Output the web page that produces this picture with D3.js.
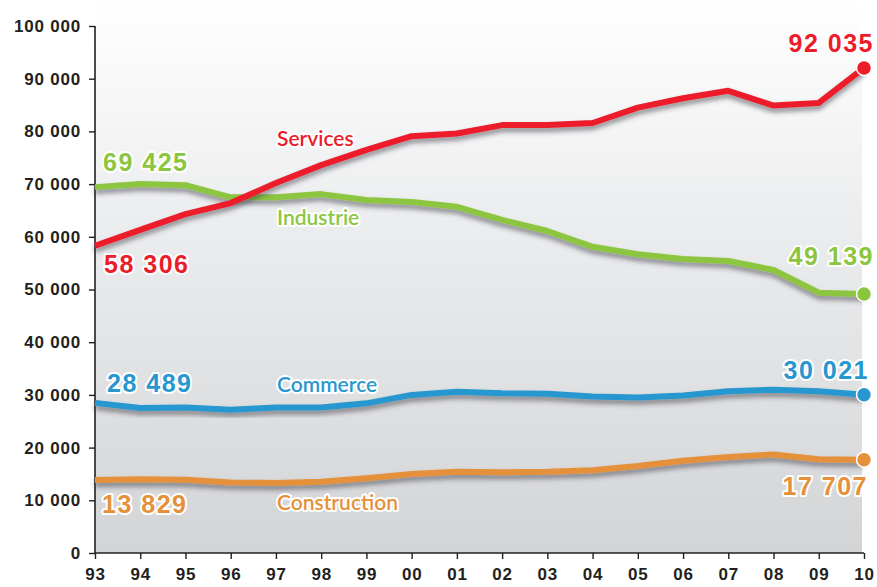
<!DOCTYPE html>
<html>
<head>
<meta charset="utf-8">
<script src="https://cdn.jsdelivr.net/npm/d3@7"></script>
<style>
  html, body { margin: 0; padding: 0; background: #ffffff; }
  svg { display: block; }
</style>
</head>
<body>
<div id="chart"></div>
<script>
// données (effectifs par secteur, 1993-2010)
const years = ["93","94","95","96","97","98","99","00","01","02","03","04","05","06","07","08","09","10"];
const services = [58306, 61300, 64300, 66400, 70200, 73600, 76500, 79100, 79600, 81200, 81200, 81600, 84500, 86300, 87700, 84900, 85400, 92035];
const industrie = [69425, 70000, 69800, 67500, 67500, 68100, 67000, 66600, 65700, 63200, 61100, 58100, 56700, 55800, 55400, 53700, 49400, 49139];
const commerce = [28489, 27500, 27600, 27200, 27600, 27600, 28400, 30000, 30600, 30300, 30200, 29700, 29500, 29900, 30700, 31000, 30700, 30021];
const construction = [13829, 14000, 13900, 13400, 13300, 13500, 14200, 15000, 15400, 15300, 15400, 15700, 16500, 17500, 18200, 18700, 17800, 17707];
const yTicks = [0, 10000, 20000, 30000, 40000, 50000, 60000, 70000, 80000, 90000, 100000];

const seriesNames = ["Construction", "Commerce", "Industrie", "Services"];
const seriesValues = [construction, commerce, industrie, services];
const seriesColors = ["#e5913b", "#2897cf", "#8cc63f", "#ec1c2a"];

const W = 877, H = 587;
const x0 = 95, x1 = 864, yTop = 26, yBot = 553;

const fr = d3.formatLocale({ decimal: ",", thousands: "\u00a0", grouping: [3], currency: ["", " €"] });
const fmt = fr.format(",");

const svg = d3.select("#chart").append("svg").attr("width", W).attr("height", H);

const defs = svg.append("defs");
const grad = defs.append("linearGradient").attr("id", "bg").attr("x1", 0).attr("y1", 0).attr("x2", 0).attr("y2", 1);
grad.append("stop").attr("offset", "0%").attr("stop-color", "#ffffff");
grad.append("stop").attr("offset", "35%").attr("stop-color", "#eeeff0");
grad.append("stop").attr("offset", "100%").attr("stop-color", "#d3d4d6");

const shadow = defs.append("filter").attr("id", "shadow")
  .attr("x", "-5%").attr("y", "-20%").attr("width", "110%").attr("height", "160%");
shadow.append("feDropShadow").attr("dx", 0).attr("dy", 4).attr("stdDeviation", 2.5)
  .attr("flood-color", "#3a3a44").attr("flood-opacity", 0.55);

const x = d3.scalePoint().domain(years).range([x0, x1]);
const y = d3.scaleLinear().domain([0, 100000]).range([yBot, yTop]);

// fond dégradé de la zone de tracé
svg.append("rect").attr("x", x0).attr("y", 0).attr("width", 862 - x0).attr("height", yBot)
  .attr("fill", "url(#bg)");

// axes
const yAxis = svg.append("g").attr("transform", `translate(${x0},0)`)
  .call(d3.axisLeft(y).tickValues(yTicks).tickSize(6).tickPadding(8).tickFormat(fmt));
const xAxis = svg.append("g").attr("transform", `translate(0,${yBot})`)
  .call(d3.axisBottom(x).tickSize(6).tickPadding(9));

[yAxis, xAxis].forEach(ax => {
  ax.select(".domain").attr("stroke", "#231f20").attr("stroke-width", 1.6);
  ax.selectAll(".tick line").attr("stroke", "#231f20").attr("stroke-width", 1.4);
  ax.selectAll("text").attr("fill", "#231f20")
    .style("font-family", "'Liberation Sans', Arial, sans-serif")
    .style("font-weight", "bold").style("font-size", "17px").style("letter-spacing", "0.8px");
});
yAxis.select(".domain").attr("d", `M0,${yTop}V${yBot}`);
xAxis.select(".domain").attr("d", `M${x0},0H${x1}`);

// courbes
const line = d3.line().x((d, i) => x(years[i])).y(d => y(d));
seriesValues.forEach((vals, k) => {
  svg.append("path").datum(vals)
    .attr("d", line)
    .attr("fill", "none")
    .attr("stroke", seriesColors[k])
    .attr("stroke-width", 6)
    .attr("stroke-linejoin", "round")
    .attr("filter", "url(#shadow)");
});
seriesValues.forEach((vals, k) => {
  svg.append("circle")
    .attr("cx", x(years[years.length - 1]))
    .attr("cy", y(vals[vals.length - 1]))
    .attr("r", 7.5)
    .attr("fill", seriesColors[k])
    .attr("stroke", "#ffffff").attr("stroke-width", 1.5);
});

// étiquettes de valeurs (début / fin)
const valueLabels = [
  { k: 3, v: services[0], x: 104, y: 273, anchor: "start" },
  { k: 3, v: services[services.length - 1], x: 874, y: 52, anchor: "end" },
  { k: 2, v: industrie[0], x: 103, y: 171, anchor: "start" },
  { k: 2, v: industrie[industrie.length - 1], x: 874, y: 265, anchor: "end" },
  { k: 1, v: commerce[0], x: 107, y: 392, anchor: "start" },
  { k: 1, v: commerce[commerce.length - 1], x: 869, y: 379, anchor: "end" },
  { k: 0, v: construction[0], x: 102, y: 513, anchor: "start" },
  { k: 0, v: construction[construction.length - 1], x: 868, y: 495, anchor: "end" }
];
svg.append("g").selectAll("text").data(valueLabels).enter().append("text")
  .attr("x", d => d.x).attr("y", d => d.y)
  .attr("text-anchor", d => d.anchor)
  .attr("fill", d => seriesColors[d.k])
  .attr("stroke", "#ffffff").attr("stroke-width", 4).attr("stroke-linejoin", "round")
  .style("paint-order", "stroke")
  .style("font-family", "'Liberation Sans', Arial, sans-serif")
  .style("font-weight", "bold").style("font-size", "25px").style("letter-spacing", "1.5px")
  .text(d => fmt(d.v));

// noms des séries
const nameLabels = [
  { k: 3, x: 277, y: 146 },
  { k: 2, x: 277, y: 225 },
  { k: 1, x: 277, y: 392 },
  { k: 0, x: 277, y: 510 }
];
svg.append("g").selectAll("text").data(nameLabels).enter().append("text")
  .attr("x", d => d.x).attr("y", d => d.y)
  .attr("fill", d => seriesColors[d.k])
  .attr("stroke", "#ffffff").attr("stroke-width", 4).attr("stroke-linejoin", "round")
  .style("paint-order", "stroke")
  .style("font-family", "Lato, 'Open Sans', sans-serif")
  .style("font-weight", "600").style("font-size", "21px")
  .text(d => seriesNames[d.k]);
</script>
</body>
</html>
